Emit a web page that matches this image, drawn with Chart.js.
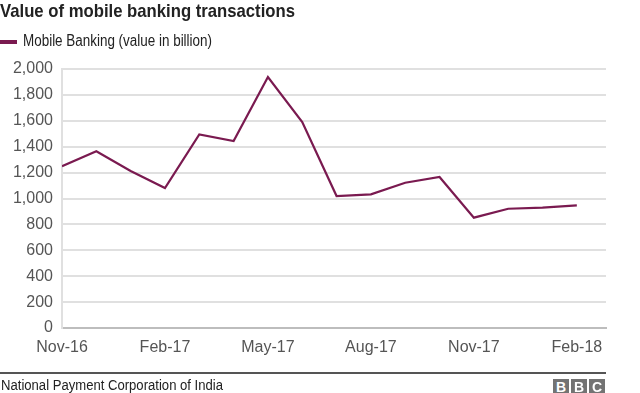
<!DOCTYPE html>
<html>
<head>
<meta charset="utf-8">
<script src="https://cdn.jsdelivr.net/npm/chart.js@4/dist/chart.umd.min.js"></script>
<style>
  html,body{margin:0;padding:0;background:#fff;}
  #wrap{position:relative;width:640px;height:393px;overflow:hidden;font-family:"Liberation Sans",Arial,sans-serif;}
  canvas{position:absolute;left:0;top:0;}
  .fit{position:absolute;white-space:nowrap;transform-origin:0 0;}
  #title{left:0;top:1px;font-size:19px;line-height:19px;font-weight:bold;color:#222;}
  #legendText{left:23px;top:33px;font-size:16px;line-height:16px;color:#222;}
  #swatch{position:absolute;left:0;top:40px;width:17px;height:4px;background:#7a1a50;}
  #rule{position:absolute;left:0;top:372px;width:606px;height:2px;background:#555;}
  #source{left:1px;top:378px;font-size:14px;line-height:14px;color:#222;}
  .bbc{position:absolute;top:379px;width:16px;height:16px;background:#737373;color:#fff;font-weight:bold;font-size:14px;line-height:16px;text-align:center;}
</style>
</head>
<body>
<div id="wrap">
  <canvas id="c" width="640" height="393"></canvas>
  <div id="title" class="fit" data-w="295">Value of mobile banking transactions</div>
  <div id="swatch"></div>
  <div id="legendText" class="fit" data-w="189">Mobile Banking (value in billion)</div>
  <div id="rule"></div>
  <div id="source" class="fit" data-w="222">National Payment Corporation of India</div>
  <div class="bbc" style="left:553px">B</div>
  <div class="bbc" style="left:571px">B</div>
  <div class="bbc" style="left:589px">C</div>
</div>
<script>
const months = ['Nov-16','Dec-16','Jan-17','Feb-17','Mar-17','Apr-17','May-17','Jun-17','Jul-17','Aug-17','Sep-17','Oct-17','Nov-17','Dec-17','Jan-18','Feb-18'];
const values = [1250,1365,1212,1081,1495,1444,1938,1591,1019,1032,1122,1166,852,921,930,947];
const xTickLabels = ['Nov-16','Feb-17','May-17','Aug-17','Nov-17','Feb-18'];
const yTicks = [0,200,400,600,800,1000,1200,1400,1600,1800,2000];

document.querySelectorAll('.fit').forEach(el=>{
  const target = parseFloat(el.dataset.w);
  const w = el.getBoundingClientRect().width;
  el.style.transform = 'scaleX(' + (target / w) + ')';
});

const font = {family:'"Liberation Sans", Arial, sans-serif', size:16};
new Chart(document.getElementById('c'), {
  type:'line',
  data:{
    datasets:[{
      label:'Mobile Banking (value in billion)',
      data: values.map((v,i)=>({x:i,y:v})),
      borderColor:'#7a1a50',
      borderWidth:2.2,
      pointRadius:0,
      tension:0,
      fill:false
    }]
  },
  options:{
    responsive:false,
    animation:false,
    layout:{padding:{left:0,top:69,right:34,bottom:35}},
    plugins:{legend:{display:false},title:{display:false},tooltip:{enabled:false}},
    scales:{
      x:{
        type:'linear',
        min:0,
        max:15.85,
        afterFit:(s)=>{s.height=30;},
        afterBuildTicks:(s)=>{s.ticks = xTickLabels.map(l=>({value:months.indexOf(l)}));},
        ticks:{
          callback:(v)=>months[v],
          color:'#555',
          font:font,
          padding:10,
          maxRotation:0,
          autoSkip:false
        },
        grid:{display:false,drawTicks:false},
        border:{display:true,color:'#bdbdbd',width:2}
      },
      y:{
        min:0,
        max:2000,
        afterFit:(s)=>{s.width=62;},
        afterBuildTicks:(s)=>{s.ticks = yTicks.map(v=>({value:v}));},
        ticks:{
          callback:(v)=>v.toLocaleString('en-US'),
          color:'#555',
          font:font,
          padding:9
        },
        grid:{color:'#e0e0e0',lineWidth:2,drawTicks:false},
        border:{display:true,color:'#e0e0e0',width:2}
      }
    }
  }
});
</script>
</body>
</html>
